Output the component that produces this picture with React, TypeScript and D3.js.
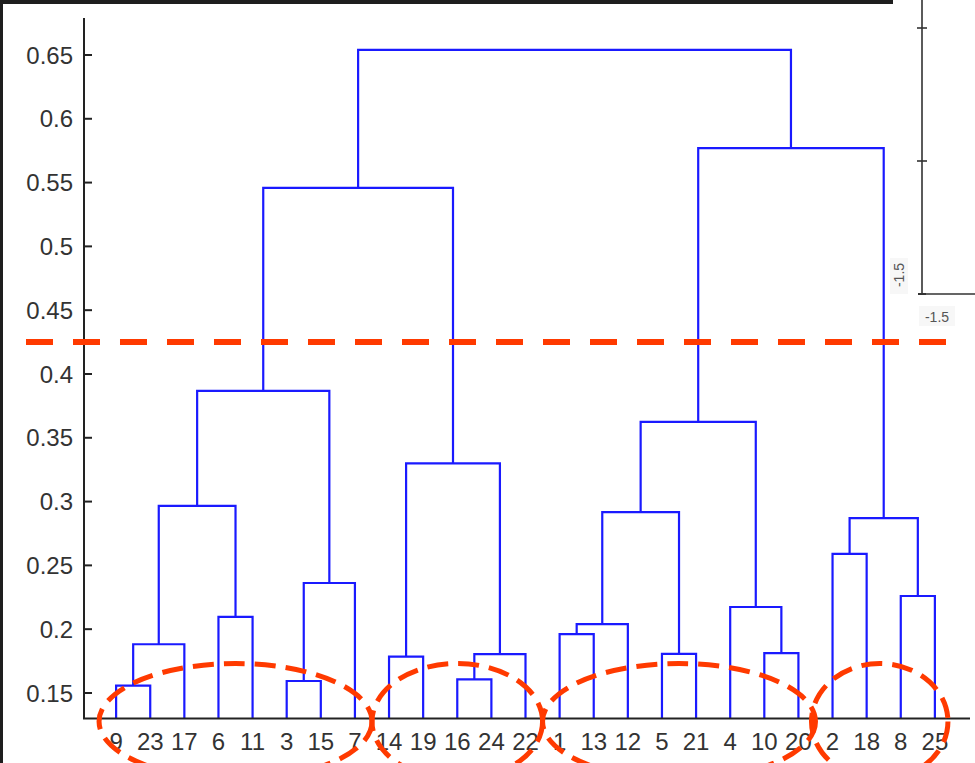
import React, { useEffect, useRef } from 'react';
import * as d3 from 'd3';

// leaf order along the x axis (left to right)
const leafOrder = [9, 23, 17, 6, 11, 3, 15, 7, 14, 19, 16, 24, 22, 1, 13, 12, 5, 21, 4, 10, 20, 2, 18, 8, 25];

// linkage: leaves are 1..25, merged clusters get ids 26, 27, ...
const mergeLeft = [9, 3, 16, 14, 5, 28, 10, 26, 1, 34, 6, 4, 8, 27, 2, 40, 35, 33, 29, 42, 43, 46, 45, 47];
const mergeRight = [23, 15, 24, 19, 21, 22, 20, 17, 13, 12, 11, 32, 25, 7, 18, 38, 30, 36, 31, 37, 39, 44, 41, 48];
const mergeHeight = [
  0.1557, 0.1594, 0.1607, 0.1785, 0.1806, 0.1804, 0.1813, 0.1882, 0.1962, 0.204, 0.2096, 0.2174,
  0.226, 0.2362, 0.259, 0.2871, 0.2918, 0.2966, 0.33, 0.3624, 0.3867, 0.5458, 0.577, 0.654
];

const yTicks = [0.15, 0.2, 0.25, 0.3, 0.35, 0.4, 0.45, 0.5, 0.55, 0.6, 0.65];
const yDomain = [0.13, 0.68];
const cutHeight = 0.425;

// first and last leaf of each circled group
const groupFirst = [9, 14, 1, 2];
const groupLast = [7, 22, 20, 25];

// the clipped neighbouring plot on the right
const sideLabels = ['-1.5', '-1.5'];

const W = 975;
const H = 763;
const font = '"Liberation Sans", Arial, Helvetica, sans-serif';

export default function App() {
  const ref = useRef<SVGSVGElement>(null);

  useEffect(() => {
    const svg = d3.select(ref.current);
    svg.selectAll('*').remove();

    svg.append('rect').attr('width', W).attr('height', H).attr('fill', '#fff');

    const left = 84;
    const right = 970;
    const bottom = 718.5;
    const top = 16.7;

    const x = d3.scalePoint<number>().domain(leafOrder).range([82, 969]).padding(1);
    const y = d3.scaleLinear().domain(yDomain).range([bottom, top]);

    // node positions
    const nodeX: Record<number, number> = {};
    const nodeY: Record<number, number> = {};
    leafOrder.forEach((l) => {
      nodeX[l] = x(l) as number;
      nodeY[l] = yDomain[0];
    });
    mergeLeft.forEach((a, i) => {
      const b = mergeRight[i];
      const id = leafOrder.length + 1 + i;
      nodeX[id] = (nodeX[a] + nodeX[b]) / 2;
      nodeY[id] = mergeHeight[i];
    });

    // dendrogram links
    const g = svg.append('g');
    mergeLeft.forEach((a, i) => {
      const b = mergeRight[i];
      const h = y(mergeHeight[i]);
      g.append('path')
        .attr('d', `M${nodeX[a]},${y(nodeY[a])}V${h}H${nodeX[b]}V${y(nodeY[b])}`)
        .attr('fill', 'none')
        .attr('stroke', '#1a1aff')
        .attr('stroke-width', 2.2);
    });

    // axes (L shape)
    const axis = svg.append('g');
    axis.append('path')
      .attr('d', `M${left},${18}V${bottom}H${right}`)
      .attr('fill', 'none')
      .attr('stroke', '#222')
      .attr('stroke-width', 2);

    yTicks.forEach((t) => {
      axis.append('line')
        .attr('x1', left).attr('x2', left + 8)
        .attr('y1', y(t)).attr('y2', y(t))
        .attr('stroke', '#222').attr('stroke-width', 2);
      axis.append('text')
        .attr('x', left - 11)
        .attr('y', y(t))
        .attr('dy', '0.36em')
        .attr('text-anchor', 'end')
        .attr('font-family', font)
        .attr('font-size', 24)
        .attr('fill', '#333')
        .text(d3.format('~g')(t));
    });

    leafOrder.forEach((l) => {
      axis.append('text')
        .attr('x', x(l) as number)
        .attr('y', bottom + 31)
        .attr('text-anchor', 'middle')
        .attr('font-family', font)
        .attr('font-size', 24)
        .attr('fill', '#333')
        .text(l);
    });

    // clipped neighbouring plot
    const side = svg.append('g');
    side.append('path')
      .attr('d', 'M922,0V294H975')
      .attr('fill', 'none')
      .attr('stroke', '#333')
      .attr('stroke-width', 1.6);
    [28, 161].forEach((ty) => {
      side.append('line')
        .attr('x1', 917).attr('x2', 927)
        .attr('y1', ty).attr('y2', ty)
        .attr('stroke', '#333').attr('stroke-width', 1.6);
    });
    side.append('line')
      .attr('x1', 918).attr('x2', 926).attr('y1', 294).attr('y2', 294)
      .attr('stroke', '#333').attr('stroke-width', 2);
    side.append('rect').attr('x', 890).attr('y', 258).attr('width', 18).attr('height', 36).attr('fill', '#f7f7f7');
    side.append('text')
      .attr('transform', 'translate(899,275) rotate(-90)')
      .attr('dy', '0.36em')
      .attr('text-anchor', 'middle')
      .attr('font-family', font)
      .attr('font-size', 14)
      .attr('fill', '#555')
      .text(sideLabels[0]);
    side.append('rect').attr('x', 919).attr('y', 306).attr('width', 36).attr('height', 20).attr('fill', '#f7f7f7');
    side.append('text')
      .attr('x', 937)
      .attr('y', 317)
      .attr('dy', '0.36em')
      .attr('text-anchor', 'middle')
      .attr('font-family', font)
      .attr('font-size', 14)
      .attr('fill', '#555')
      .text(sideLabels[1]);

    // cut line
    svg.append('line')
      .attr('x1', 26).attr('x2', 966)
      .attr('y1', y(cutHeight)).attr('y2', y(cutHeight))
      .attr('stroke', '#ff3a00')
      .attr('stroke-width', 6)
      .attr('stroke-dasharray', '27 20');

    // circled groups
    const step = x.step();
    groupFirst.forEach((f, i) => {
      const x0 = x(f) as number;
      const x1 = x(groupLast[i]) as number;
      svg.append('ellipse')
        .attr('cx', (x0 + x1) / 2 - (i === 3 ? 4 : 0))
        .attr('cy', bottom + 3)
        .attr('rx', (x1 - x0) / 2 + step * 0.5)
        .attr('ry', 58)
        .attr('fill', 'none')
        .attr('stroke', '#ff3a00')
        .attr('stroke-width', 5)
        .attr('stroke-dasharray', '21 10');
    });

    // dark screenshot frame
    svg.append('rect').attr('x', 0).attr('y', 0).attr('width', 893).attr('height', 4).attr('fill', '#1e1e1e');
    svg.append('rect').attr('x', 0).attr('y', 0).attr('width', 3).attr('height', H).attr('fill', '#1e1e1e');
  }, []);

  return (
    <div style={{ position: 'absolute', left: 0, top: 0 }}>
      <svg ref={ref} width={W} height={H} style={{ display: 'block' }} />
    </div>
  );
}
